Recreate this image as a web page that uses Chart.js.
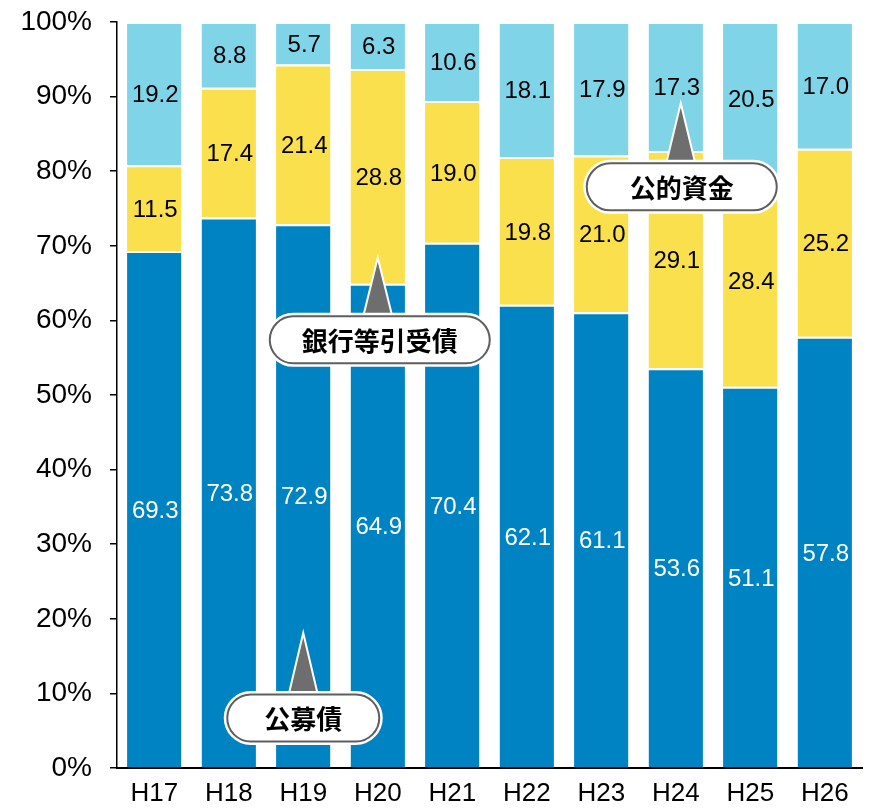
<!DOCTYPE html>
<html>
<head>
<meta charset="utf-8">
<script src="https://cdn.jsdelivr.net/npm/chart.js@4"></script>
<style>
  html, body { margin: 0; padding: 0; background: #fff; }
  #wrap { width: 872px; height: 810px; }
</style>
</head>
<body>
<div id="wrap"><canvas id="shareChart" width="872" height="810"></canvas></div>
<script>
const years = ["H17", "H18", "H19", "H20", "H21", "H22", "H23", "H24", "H25", "H26"];
const publicBonds = [69.3, 73.8, 72.9, 64.9, 70.4, 62.1, 61.1, 53.6, 51.1, 57.8];
const bankBonds = [11.5, 17.4, 21.4, 28.8, 19.0, 19.8, 21.0, 29.1, 28.4, 25.2];
const publicFunds = [19.2, 8.8, 5.7, 6.3, 10.6, 18.1, 17.9, 17.3, 20.5, 17.0];

// callouts: category index, value of the arrow tip, value of the pill centre
const calloutNames = ["公募債", "銀行等引受債", "公的資金"];
const calloutCats = [2, 3, 7];
const calloutTips = [18.1, 68.4, 89.1];
const calloutPills = [6.7, 57.4, 77.9];

const labelColors = ["#ffffff", "#000000", "#000000"];
const pillWidths = [152, 220, 190];
const pillShift = [0, 2, 6];

const valueLabels = {
    id: "valueLabels",
    afterDatasetsDraw(chart) {
        const ctx = chart.ctx;
        ctx.save();
        ctx.font = '24px "Liberation Sans", Arial, sans-serif';
        ctx.textAlign = "center";
        ctx.textBaseline = "middle";
        chart.data.datasets.forEach(function (ds, i) {
            const meta = chart.getDatasetMeta(i);
            meta.data.forEach(function (bar, j) {
                const c = bar.getCenterPoint();
                ctx.fillStyle = labelColors[i];
                ctx.fillText(ds.data[j].toFixed(1), c.x + 1, c.y + 2);
            });
        });
        ctx.restore();
    }
};

function roundPill(ctx, x, y, w, h) {
    const r = h / 2;
    ctx.beginPath();
    ctx.moveTo(x + r, y);
    ctx.lineTo(x + w - r, y);
    ctx.arc(x + w - r, y + r, r, -Math.PI / 2, Math.PI / 2);
    ctx.lineTo(x + r, y + h);
    ctx.arc(x + r, y + r, r, Math.PI / 2, Math.PI * 1.5);
    ctx.closePath();
}

const callouts = {
    id: "callouts",
    afterDraw(chart) {
        const ctx = chart.ctx;
        const xs = chart.scales.x;
        const ys = chart.scales.y;
        ctx.save();
        ctx.font = 'bold 26px "Noto Sans CJK JP", sans-serif';
        calloutNames.forEach(function (name, i) {
            const cx = xs.getPixelForValue(calloutCats[i]) + pillShift[i];
            const tipX = xs.getPixelForValue(calloutCats[i]) + (i === 2 ? 5 : 0);
            const tipY = ys.getPixelForValue(calloutTips[i]);
            const pillY = ys.getPixelForValue(calloutPills[i]);
            const h = 47;
            const w = pillWidths[i];

            // arrow
            ctx.beginPath();
            ctx.moveTo(tipX, tipY);
            ctx.lineTo(tipX + 15, pillY - h / 2 + 2);
            ctx.lineTo(tipX - 15, pillY - h / 2 + 2);
            ctx.closePath();
            ctx.fillStyle = "#6e6e6e";
            ctx.fill();
            ctx.strokeStyle = "#ffffff";
            ctx.lineWidth = 2;
            ctx.stroke();

            // pill
            roundPill(ctx, cx - w / 2, pillY - h / 2, w, h);
            ctx.strokeStyle = "#ffffff";
            ctx.lineWidth = 7;
            ctx.stroke();
            ctx.fillStyle = "#ffffff";
            ctx.fill();
            ctx.strokeStyle = "#5e5e5e";
            ctx.lineWidth = 2;
            ctx.stroke();

            ctx.fillStyle = "#000000";
            ctx.textAlign = "center";
            ctx.textBaseline = "middle";
            ctx.fillText(name, cx, pillY + 1);
        });
        ctx.restore();
    }
};

const ctx = document.getElementById("shareChart").getContext("2d");
new Chart(ctx, {
    type: "bar",
    data: {
        labels: years,
        datasets: [
            { label: "公募債", data: publicBonds, backgroundColor: "#0083c3" },
            { label: "銀行等引受債", data: bankBonds, backgroundColor: "#f9e04c" },
            { label: "公的資金", data: publicFunds, backgroundColor: "#80d4e8" }
        ]
    },
    options: {
        responsive: false,
        animation: false,
        layout: { padding: { top: 22, right: 10, left: 0, bottom: 0 } },
        datasets: {
            bar: {
                barPercentage: 0.73,
                categoryPercentage: 1,
                borderColor: "#ffffff",
                borderWidth: { top: 2, bottom: 0, left: 0, right: 0 },
                borderSkipped: false
            }
        },
        plugins: {
            legend: { display: false },
            tooltip: { enabled: false }
        },
        scales: {
            x: {
                stacked: true,
                grid: { display: false, drawTicks: false },
                border: { display: true, color: "#000000", width: 2 },
                ticks: {
                    color: "#000000",
                    padding: 10,
                    font: { family: '"Liberation Sans", Arial, sans-serif', size: 26 }
                },
                afterFit(scale) {
                    scale.height = 42;
                    scale.paddingLeft = 0;
                    scale.paddingRight = 0;
                }
            },
            y: {
                stacked: true,
                min: 0,
                max: 100,
                grid: {
                    drawOnChartArea: false,
                    drawTicks: true,
                    tickLength: 7,
                    color: "#000000",
                    lineWidth: 1.5
                },
                border: { display: true, color: "#000000", width: 1.5 },
                ticks: {
                    stepSize: 10,
                    color: "#000000",
                    padding: 18,
                    font: { family: '"Liberation Sans", Arial, sans-serif', size: 28 },
                    callback: function (v) { return v + "%"; }
                },
                afterFit(scale) {
                    scale.width = 117;
                    scale.paddingTop = 0;
                    scale.paddingBottom = 0;
                }
            }
        }
    },
    plugins: [valueLabels, callouts]
});
</script>
</body>
</html>
